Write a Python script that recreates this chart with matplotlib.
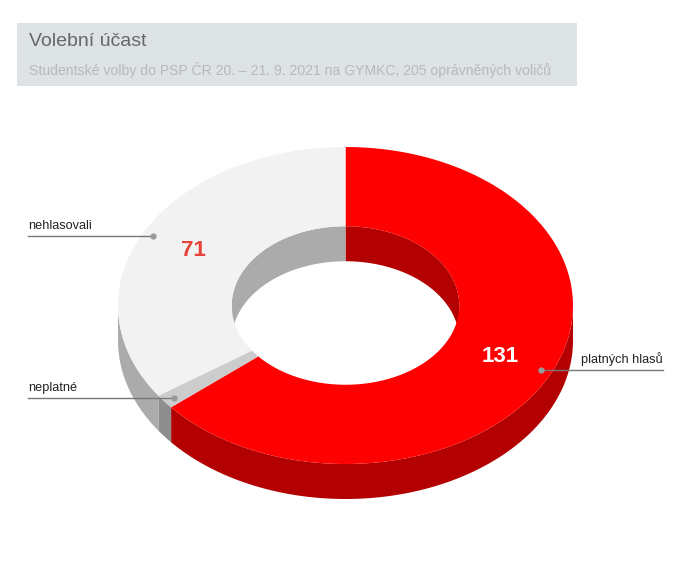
import numpy as np
import matplotlib.pyplot as plt
from matplotlib.patches import Polygon, Rectangle

plt.rcParams['font.family'] = ['Liberation Sans', 'DejaVu Sans']

labels = ['platných hlasů', 'neplatné', 'nehlasovali']
values = [131, 3, 71]
top_colors = ['#ff0000', '#cccccc', '#f2f2f2']
side_colors = ['#b30000', '#8e8e8e', '#ababab']
title = 'Volební účast'
subtitle = 'Studentské volby do PSP ČR 20. – 21. 9. 2021 na GYMKC, 205 oprávněných voličů'

W, H = 691, 580
cx, cy = 345.5, 305.5
rx, ry = 227.5, 158.5
rin = 0.5
depth = 35

fig = plt.figure(figsize=(W / 100, H / 100), dpi=100)
ax = fig.add_axes([0, 0, 1, 1])
ax.set_xlim(0, W)
ax.set_ylim(H, 0)
ax.axis('off')


def pt(theta, k=1.0, dy=0.0):
    # theta in degrees, clockwise from 12 o'clock
    t = np.deg2rad(theta)
    return cx + k * rx * np.sin(t), cy - k * ry * np.cos(t) + dy


def arc(a0, a1, k=1.0, dy=0.0, n=120):
    th = np.linspace(a0, a1, n)
    x, y = pt(th, k, dy)
    return np.column_stack([x, y])


total = sum(values)
bounds = np.concatenate([[0], np.cumsum(values) / total * 360])

# inner walls (back half of hole: -90..90)
for i in range(len(values)):
    a0, a1 = bounds[i], bounds[i + 1]
    for lo, hi in [(a0, a1), (a0 - 360, a1 - 360)]:
        s, e = max(lo, -90), min(hi, 90)
        if s < e:
            top = arc(s, e, rin)
            bot = arc(s, e, rin, depth)[::-1]
            ax.add_patch(Polygon(np.vstack([top, bot]), closed=True,
                                 fc=side_colors[i], ec='none', zorder=1))

# outer side walls (front half: 90..270)
for i in range(len(values)):
    a0, a1 = bounds[i], bounds[i + 1]
    s, e = max(a0, 90), min(a1, 270)
    if s < e:
        top = arc(s, e)
        bot = arc(s, e, 1.0, depth)[::-1]
        ax.add_patch(Polygon(np.vstack([top, bot]), closed=True,
                             fc=side_colors[i], ec='none', zorder=2))

# top faces
for i in range(len(values)):
    a0, a1 = bounds[i], bounds[i + 1]
    outer = arc(a0, a1)
    inner = arc(a0, a1, rin)[::-1]
    ax.add_patch(Polygon(np.vstack([outer, inner]), closed=True,
                         fc=top_colors[i], ec='none', zorder=3))

# value labels
ax.text(500, 357, str(values[0]), color='white', fontsize=16, fontweight='bold',
        ha='center', va='center', zorder=5)
ax.text(193, 251, str(values[2]), color='#e8413a', fontsize=16, fontweight='bold',
        ha='center', va='center', zorder=5)

# connector labels
lab_color = '#222222'
line_color = '#777777'
ax.plot([28, 153], [236, 236], color=line_color, lw=1, zorder=6)
ax.plot(153, 236, 'o', color='#999999', ms=3.5, zorder=6)
ax.text(28, 232, labels[2], fontsize=9.2, color=lab_color, ha='left', va='bottom', zorder=6)

ax.plot([28, 174], [398, 398], color=line_color, lw=1, zorder=6)
ax.plot(174, 398, 'o', color='#999999', ms=3.5, zorder=6)
ax.text(28, 394, labels[1], fontsize=9.2, color=lab_color, ha='left', va='bottom', zorder=6)

ax.plot([541, 663], [370, 370], color=line_color, lw=1, zorder=6)
ax.plot(541, 370, 'o', color='#999999', ms=3.5, zorder=6)
ax.text(663, 366, labels[0], fontsize=9.2, color=lab_color, ha='right', va='bottom', zorder=6)

# title box
ax.add_patch(Rectangle((17, 23), 560, 63, fc='#dde3e5', ec='none', zorder=0))
ax.text(29, 42, title, fontsize=14, color='#666666', ha='left', va='center')
ax.text(29, 70, subtitle, fontsize=10.1, color='#b8b8b8', ha='left', va='center')

fig.savefig('out.png', dpi=100)
